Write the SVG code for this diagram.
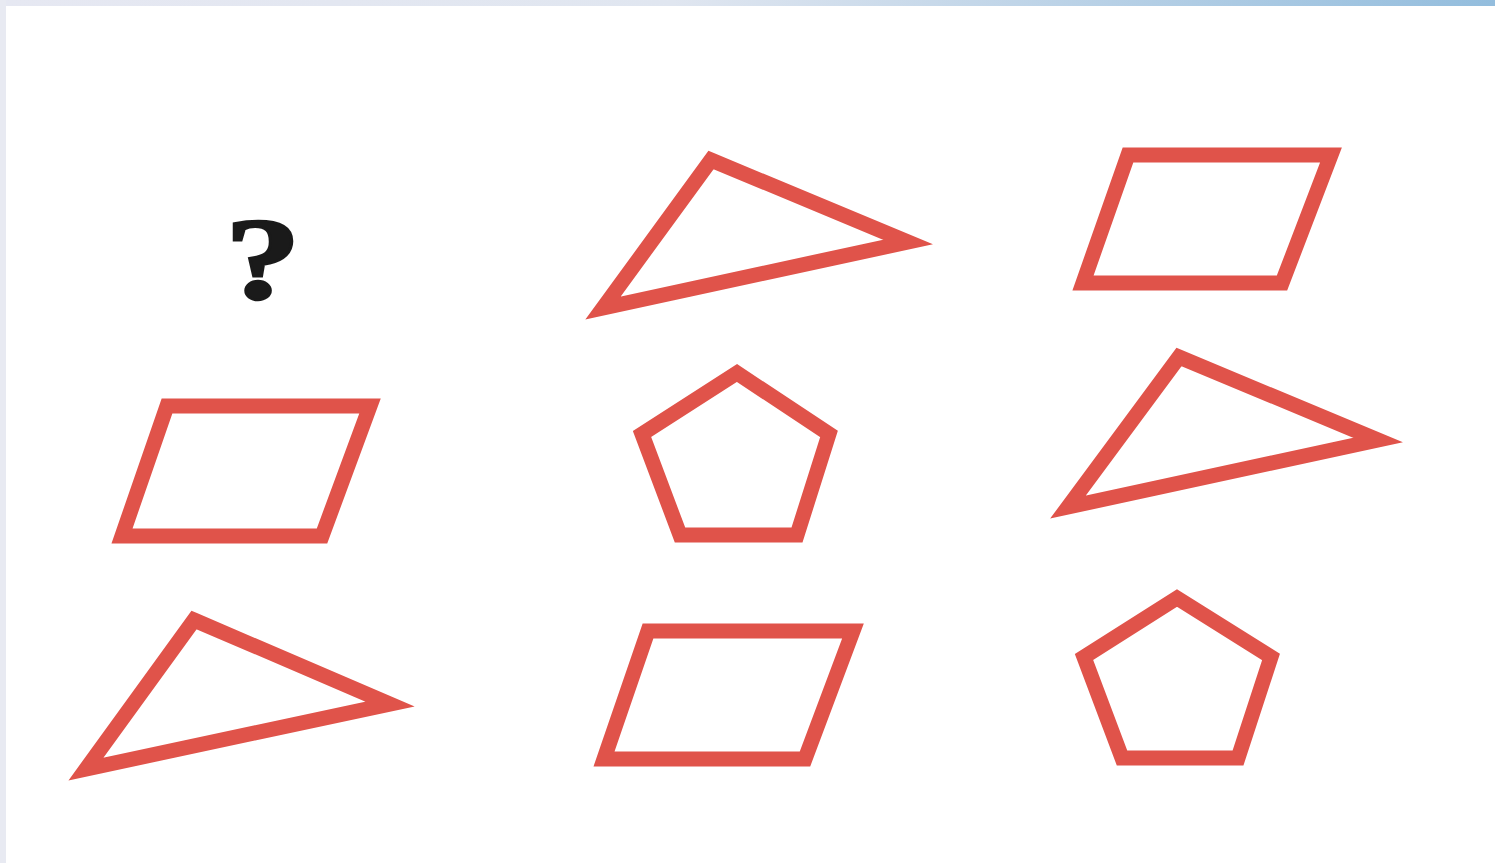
<svg xmlns="http://www.w3.org/2000/svg" width="1495" height="863" viewBox="0 0 1495 863">
  <defs>
    <linearGradient id="topbar" x1="0" y1="0" x2="1" y2="0">
      <stop offset="0" stop-color="#e6e8f2"/>
      <stop offset="0.45" stop-color="#e0e6f0"/>
      <stop offset="1" stop-color="#93bddd"/>
    </linearGradient>
    <style>
      .shape { fill: none; stroke: #e0534a; stroke-width: 15; stroke-linejoin: miter; stroke-miterlimit: 10; }
      .q { font-family: "Liberation Serif", "DejaVu Serif", serif; font-weight: bold; font-size: 116px; fill: #1a1a1a; stroke: #1a1a1a; stroke-width: 2.5; }
    </style>
  </defs>
  <rect x="0" y="0" width="1495" height="863" fill="#ffffff"/>
  <rect x="0" y="0" width="1495" height="6" fill="url(#topbar)"/>
  <rect x="0" y="0" width="6" height="863" fill="#e8eaf2"/>

  <g id="question">
    <text class="q" x="263" y="298" text-anchor="middle" transform="translate(263 0) scale(1.3 1) translate(-263 0)">?</text>
  </g>

  <g id="triangle-top-middle">
    <polygon class="shape" points="711,160 908,242 603,308"/>
  </g>
  <g id="parallelogram-top-right">
    <polygon class="shape" points="1128,155 1331,155 1282,283 1083,283"/>
  </g>
  <g id="parallelogram-mid-left">
    <polygon class="shape" points="167,406 370,406 322,536 122,536"/>
  </g>
  <g id="pentagon-mid-middle">
    <polygon class="shape" points="737,373 829,434 797,535 680,535 642,434"/>
  </g>
  <g id="triangle-mid-right">
    <polygon class="shape" points="1179,357 1378,440 1068,507"/>
  </g>
  <g id="triangle-bottom-left">
    <polygon class="shape" points="194,620 390,704 86,769"/>
  </g>
  <g id="parallelogram-bottom-middle">
    <polygon class="shape" points="648,631 853,631 805,759 604,759"/>
  </g>
  <g id="pentagon-bottom-right">
    <polygon class="shape" points="1177,598 1271,657 1238,758 1122,758 1084,657"/>
  </g>
  <g id="connectors"/>
</svg>
